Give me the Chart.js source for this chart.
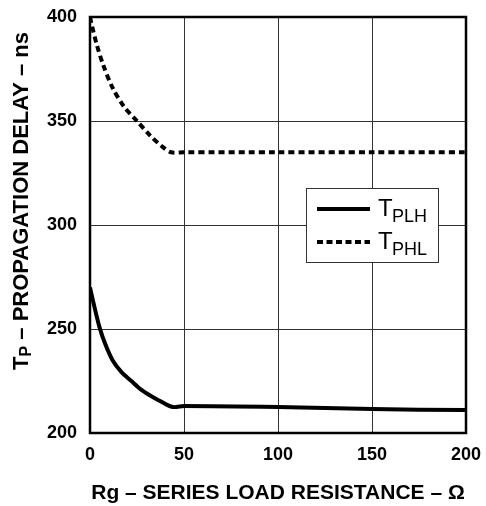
<!DOCTYPE html>
<html>
<head>
  <meta name="viewport" content="width=device-width, initial-scale=1.0">
  <script src="https://cdn.jsdelivr.net/npm/chart.js@4.4.0/dist/chart.umd.min.js"></script>
  <style>
    body { margin: 0; background: #fff; }
    #wrap { width: 486px; height: 506px; }
  </style>
</head>
<body>
  <div id="wrap"><canvas id="myChart" width="486" height="506"></canvas></div>
  <script>
  // values
  const rgPLH = [0, 2, 5, 8, 12, 17, 22, 27, 32, 37, 41, 44, 46, 50, 100, 150, 200];
  const tPLH  = [270, 262, 251, 243, 235, 229, 225, 221, 218, 215.5, 213.5, 212.5, 212.5, 213, 212.5, 211.5, 211];
  const rgPHL = [0, 1, 3.5, 7, 12, 18, 25, 32, 38, 43, 50, 100, 150, 200];
  const tPHL  = [400, 396, 387, 377, 366, 357, 350, 343, 338, 335, 335, 335, 335, 335];
  const xTicks = [0, 50, 100, 150, 200];
  const yTicks = [200, 250, 300, 350, 400];

  const FONT = '"Liberation Sans", Arial, sans-serif';

  function toPoints(xs, ys) {
    return xs.map((x, i) => ({ x: x, y: ys[i] }));
  }

  // draws axis titles with subscripts, the boxed legend and the heavy frame
  const extras = {
    id: 'extras',
    afterDraw(chart) {
      const ctx = chart.ctx;
      const a = chart.chartArea;
      ctx.save();

      ctx.strokeStyle = '#000';
      ctx.lineWidth = 2.5;
      ctx.strokeRect(a.left, a.top, a.right - a.left, a.bottom - a.top);

      ctx.fillStyle = '#000';
      ctx.textBaseline = 'alphabetic';

      // x title
      ctx.font = 'bold 21px ' + FONT;
      ctx.textAlign = 'center';
      ctx.fillText('Rg \u2013 SERIES LOAD RESISTANCE \u2013 \u03A9', 278, 499);

      // y title, rotated, with subscript P
      ctx.translate(28, 201);
      ctx.rotate(-Math.PI / 2);
      const big = 'bold 22px ' + FONT;
      const small = 'bold 16px ' + FONT;
      ctx.font = big;
      const wT = ctx.measureText('T').width;
      ctx.font = small;
      const wP = ctx.measureText('P').width;
      ctx.font = big;
      const rest = ' \u2013 PROPAGATION DELAY \u2013 ns';
      const wR = ctx.measureText(rest).width;
      let x0 = -(wT + wP + wR) / 2;
      ctx.textAlign = 'left';
      ctx.fillText('T', x0, 0);
      ctx.font = small;
      ctx.fillText('P', x0 + wT, 3);
      ctx.font = big;
      ctx.fillText(rest, x0 + wT + wP, 0);
      ctx.setTransform(1, 0, 0, 1, 0, 0);

      // legend box
      const lx = 306, ly = 188, lw = 132, lh = 74;
      ctx.fillStyle = '#fff';
      ctx.fillRect(lx, ly, lw, lh);
      ctx.strokeStyle = '#333';
      ctx.lineWidth = 1;
      ctx.strokeRect(lx + 0.5, ly + 0.5, lw, lh);

      const rows = [
        { sub: 'PLH', dash: [], y: 209 },
        { sub: 'PHL', dash: [6, 3.5], y: 242 }
      ];
      rows.forEach(r => {
        ctx.strokeStyle = '#000';
        ctx.lineWidth = 4;
        ctx.setLineDash(r.dash);
        ctx.beginPath();
        ctx.moveTo(317, r.y);
        ctx.lineTo(370, r.y);
        ctx.stroke();
        ctx.setLineDash([]);
        ctx.fillStyle = '#000';
        ctx.font = '24px ' + FONT;
        ctx.fillText('T', 378, r.y + 7);
        ctx.font = '18px ' + FONT;
        ctx.fillText(r.sub, 392, r.y + 13);
      });

      ctx.restore();
    }
  };

  const ctx = document.getElementById('myChart').getContext('2d');
  const myChart = new Chart(ctx, {
    type: 'line',
    data: {
      datasets: [{
        label: 'TPLH',
        data: toPoints(rgPLH, tPLH),
        borderColor: '#000',
        borderWidth: 4,
        pointRadius: 0,
        tension: 0.3,
        fill: false
      }, {
        label: 'TPHL',
        data: toPoints(rgPHL, tPHL),
        borderColor: '#000',
        borderWidth: 4,
        borderDash: [6, 4],
        pointRadius: 0,
        tension: 0.3,
        fill: false
      }]
    },
    options: {
      responsive: false,
      animation: false,
      devicePixelRatio: 1,
      layout: { padding: { top: 17, right: 20, left: 0, bottom: 0 } },
      plugins: {
        legend: { display: false },
        tooltip: { enabled: false }
      },
      scales: {
        x: {
          type: 'linear',
          min: 0, max: 200,
          afterBuildTicks: s => { s.ticks = xTicks.map(v => ({ value: v })); },
          afterFit: s => { s.height = 73; s.paddingLeft = 0; s.paddingRight = 0; },
          grid: { color: '#333', lineWidth: 1, drawTicks: false },
          border: { display: false },
          ticks: {
            padding: 11,
            color: '#000',
            font: { family: FONT, size: 18, weight: 'bold' }
          }
        },
        y: {
          type: 'linear',
          min: 200, max: 400,
          afterBuildTicks: s => { s.ticks = yTicks.map(v => ({ value: v })); },
          afterFit: s => { s.width = 90; s.paddingTop = 0; s.paddingBottom = 0; },
          grid: { color: '#333', lineWidth: 1, drawTicks: false },
          border: { display: false },
          ticks: {
            padding: 13,
            color: '#000',
            font: { family: FONT, size: 18, weight: 'bold' }
          }
        }
      }
    },
    plugins: [extras]
  });
  </script>
</body>
</html>
